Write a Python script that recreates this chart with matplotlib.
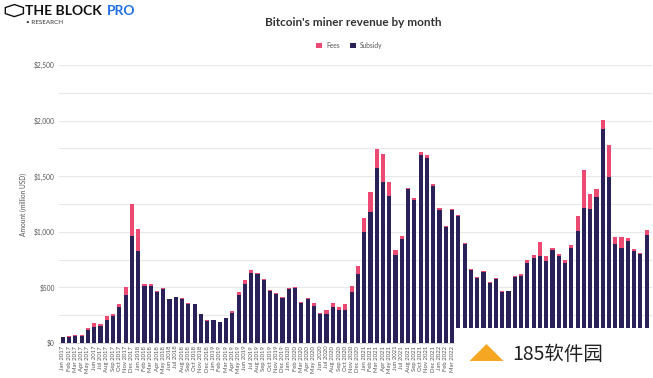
import matplotlib.pyplot as plt
import numpy as np
from matplotlib.patches import Rectangle, RegularPolygon

plt.switch_backend("Agg")
plt.rcParams["font.family"] = ["Lato", "DejaVu Sans"]

MONTHS = ["Jan", "Feb", "Mar", "Apr", "May", "Jun",
          "Jul", "Aug", "Sep", "Oct", "Nov", "Dec"]
labels = [f"{m} {y}" for y in range(2017, 2025) for m in MONTHS][:94]

# million USD per month, Jan 2017 .. Oct 2024
subsidy = [
    54, 57, 64, 66, 114, 147, 150, 210, 245, 320, 430, 958,
    823, 510, 516, 456, 490, 392, 410, 397, 355, 347, 258, 201,
    203, 187, 221, 272, 428, 530, 628, 618, 565, 468, 440, 408,
    486, 495, 364, 400, 330, 262, 262, 322, 297, 298, 460, 622,
    1001, 1175, 1577, 1451, 1322, 792, 935, 1382, 1286, 1691, 1661, 1412,
    1199, 1040, 1193, 1139, 887, 652, 588, 641, 538, 579, 458, 465,
    590, 605, 722, 767, 782, 737, 836, 785, 719, 857, 1007, 1217,
    1205, 1310, 1921, 1496, 890, 857, 917, 827, 797, 971,
]
fees = [
    3, 3, 5, 6, 24, 33, 18, 35, 18, 33, 73, 295,
    204, 20, 14, 11, 7, 8, 7, 5, 5, 3, 4, 3,
    3, 3, 4, 16, 31, 36, 28, 14, 10, 8, 7, 6,
    6, 6, 8, 5, 33, 11, 32, 38, 24, 50, 55, 70,
    120, 186, 165, 246, 123, 42, 27, 15, 18, 27, 27, 18,
    12, 12, 12, 12, 15, 10, 9, 9, 8, 8, 7, 6,
    12, 15, 24, 24, 129, 42, 21, 15, 27, 21, 138, 336,
    132, 72, 84, 285, 66, 99, 24, 21, 15, 45,
]

SUB_COLOR = "#2a2159"
FEE_COLOR = "#ec4a72"

fig = plt.figure(figsize=(6.53, 3.78), dpi=100)
ax = fig.add_axes([0.09, 0.0926, 0.908, 0.7354])

x = np.arange(len(subsidy))
ax.bar(x, subsidy, width=0.66, color=SUB_COLOR, label="Subsidy", zorder=3)
ax.bar(x, fees, width=0.66, bottom=subsidy, color=FEE_COLOR, label="Fees", zorder=3)

ax.set_xlim(-0.65, 93.8)
ax.set_ylim(0, 2500)
ax.set_yticks(np.arange(0, 2501, 500))
ax.set_yticks(np.arange(250, 2500, 500), minor=True)
ax.set_yticklabels([f"${v:,}" for v in range(0, 2501, 500)])
ax.grid(axis="y", which="both", color="#e8e8e8", linewidth=0.8, zorder=0)
ax.tick_params(axis="y", which="both", length=0, labelsize=4.8,
               labelcolor="#555555", pad=3)
ax.set_xticks(x)
ax.set_xticklabels(labels, rotation=90, fontsize=4.3, color="#555555")
ax.tick_params(axis="x", length=0, pad=2)
# labels from Apr 2022 on sit under the watermark box
for lbl in ax.get_xticklabels()[63:]:
    lbl.set_visible(False)
for side in ["top", "right", "left"]:
    ax.spines[side].set_visible(False)
ax.spines["bottom"].set_color("#cccccc")
ax.spines["bottom"].set_linewidth(0.6)

ax.set_ylabel("Amount (million USD)", fontsize=4.8, color="#555555", labelpad=5)

fig.text(0.541, 0.94, "Bitcoin's miner revenue by month", ha="center",
         va="center", fontsize=8.5, fontweight="bold", color="#333333")

handles, lbls = ax.get_legend_handles_labels()
fig.legend(handles[::-1], lbls[::-1], loc="center", bbox_to_anchor=(0.535, 0.88),
           ncol=2, frameon=False, fontsize=4.8, handlelength=0.9,
           handleheight=0.9, columnspacing=1.5, handletextpad=0.6,
           labelcolor="#555555")

# header logo
fig.patches.append(RegularPolygon((0.022, 0.972), 6, radius=0.016,
                                  transform=fig.transFigure, fill=False,
                                  edgecolor="#111111", linewidth=1.0))
fig.text(0.038, 0.971, "THE BLOCK", fontsize=10, fontweight="bold",
         color="#111111", va="center")
fig.text(0.163, 0.971, "PRO", fontsize=10, fontweight="bold",
         color="#1f6fe5", va="center")
fig.text(0.040, 0.94, "• RESEARCH", fontsize=4.5, color="#333333", va="center")

# watermark patch in lower right corner
fig.patches.append(Rectangle((0.697, 0.0), 0.303, 0.132,
                             transform=fig.transFigure, facecolor="white",
                             edgecolor="none", zorder=5))
fig.patches.append(RegularPolygon((0.745, 0.06), 3, radius=0.03,
                                  transform=fig.transFigure, facecolor="#f5a623",
                                  edgecolor="none", zorder=6))
fig.text(0.785, 0.063, "185软件园", fontsize=14, color="#222222", va="center",
         family=["Noto Sans CJK SC", "DejaVu Sans"], zorder=7)

fig.savefig("out.png", dpi=100)
plt.close(fig)
